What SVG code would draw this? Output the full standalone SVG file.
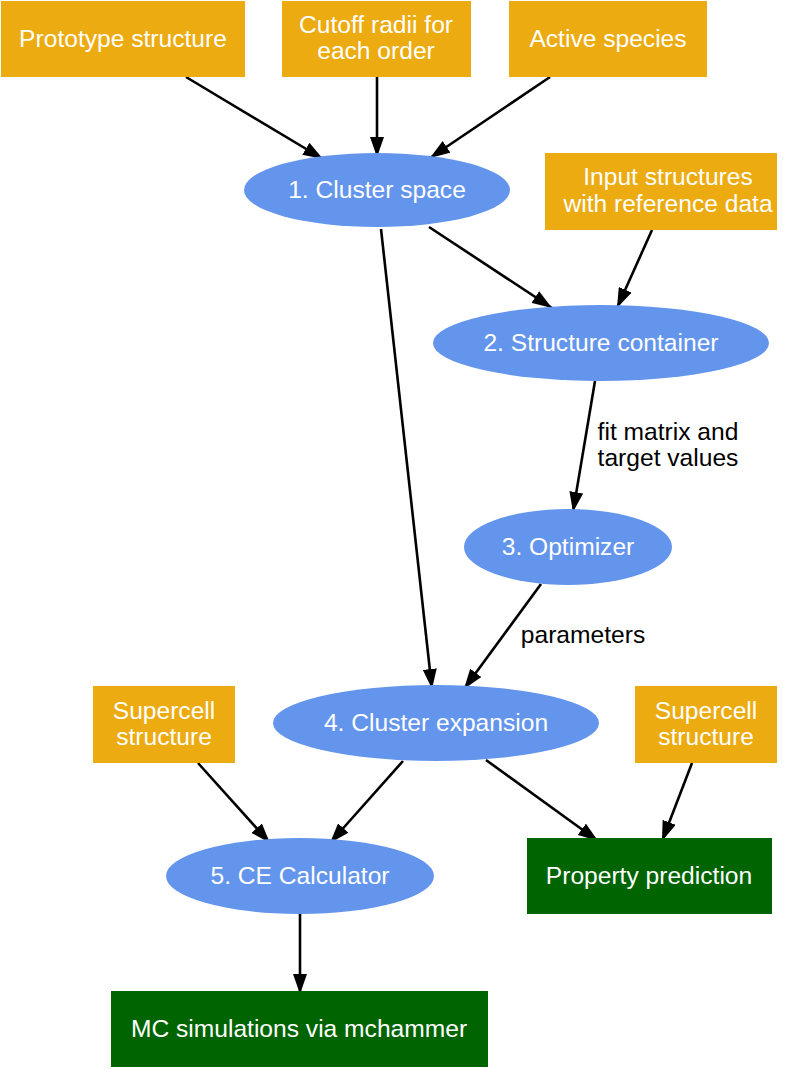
<svg xmlns="http://www.w3.org/2000/svg" width="794" height="1069" viewBox="0 0 794 1069">
<style>
.in{fill:#ecab10}
.op{fill:#6495ed}
.out{fill:#006400}
text{font-family:"Liberation Sans",Arial,Helvetica,sans-serif;font-size:24.6px;text-anchor:middle}
.w{fill:#ffffff}
.k{fill:#000000}
.e{stroke:#000;stroke-width:2.6;fill:none;marker-end:url(#ah)}
</style>
<defs>
<marker id="ah" markerUnits="userSpaceOnUse" markerWidth="20" markerHeight="14" refX="20" refY="7" orient="auto">
<path d="M0,0 L20,7 L0,14 z" fill="#000"/>
</marker>
</defs>
<rect width="794" height="1069" fill="#ffffff"/>
<g id="connectors">
<line class="e" x1="186" y1="77" x2="323" y2="159"/>
<line class="e" x1="377" y1="77" x2="377" y2="157"/>
<line class="e" x1="550" y1="77" x2="430" y2="158"/>
<line class="e" x1="429" y1="227" x2="552" y2="308"/>
<line class="e" x1="652" y1="230" x2="617" y2="308"/>
<line class="e" x1="381" y1="229" x2="432" y2="689"/>
<line class="e" x1="595" y1="381" x2="573" y2="512"/>
<line class="e" x1="541" y1="584" x2="464" y2="689"/>
<line class="e" x1="198" y1="763" x2="270" y2="843"/>
<line class="e" x1="403" y1="761" x2="330" y2="843"/>
<line class="e" x1="486" y1="760" x2="598" y2="841"/>
<line class="e" x1="692" y1="763" x2="662" y2="841"/>
<line class="e" x1="300" y1="914" x2="300" y2="994"/>
<text class="k" x="668" y="440">fit matrix and</text>
<text class="k" x="668" y="466">target values</text>
<text class="k" x="583" y="643">parameters</text>
</g>
<g id="prototype">
<rect class="in" x="1" y="1" width="244" height="76"/>
<text class="w" x="123" y="47">Prototype structure</text>
</g>
<g id="cutoff">
<rect class="in" x="282" y="1" width="189" height="76"/>
<text class="w" x="376" y="33">Cutoff radii for</text>
<text class="w" x="376" y="59">each order</text>
</g>
<g id="species">
<rect class="in" x="509" y="1" width="198" height="76"/>
<text class="w" x="608" y="47">Active species</text>
</g>
<g id="clusterspace">
<ellipse class="op" cx="377" cy="190" rx="133" ry="37"/>
<text class="w" x="377" y="198">1. Cluster space</text>
</g>
<g id="inputstructures">
<rect class="in" x="545" y="153" width="232" height="77"/>
<text class="w" x="668" y="185">Input structures</text>
<text class="w" x="668" y="212">with reference data</text>
</g>
<g id="structurecontainer">
<ellipse class="op" cx="601" cy="343" rx="168" ry="38"/>
<text class="w" x="601" y="351">2. Structure container</text>
</g>
<g id="optimizer">
<ellipse class="op" cx="568" cy="547" rx="104" ry="38"/>
<text class="w" x="568" y="555">3. Optimizer</text>
</g>
<g id="clusterexpansion">
<ellipse class="op" cx="436" cy="723" rx="163" ry="38"/>
<text class="w" x="436" y="731">4. Cluster expansion</text>
</g>
<g id="supercell1">
<rect class="in" x="93" y="686" width="142" height="77"/>
<text class="w" x="164" y="719">Supercell</text>
<text class="w" x="164" y="745">structure</text>
</g>
<g id="supercell2">
<rect class="in" x="635" y="686" width="142" height="77"/>
<text class="w" x="706" y="719">Supercell</text>
<text class="w" x="706" y="745">structure</text>
</g>
<g id="cecalculator">
<ellipse class="op" cx="300" cy="876" rx="134" ry="38"/>
<text class="w" x="300" y="884">5. CE Calculator</text>
</g>
<g id="propertyprediction">
<rect class="out" x="527" y="838" width="245" height="76"/>
<text class="w" x="649" y="884">Property prediction</text>
</g>
<g id="mcsimulations">
<rect class="out" x="111" y="991" width="377" height="76"/>
<text class="w" x="299" y="1037">MC simulations via mchammer</text>
</g>
</svg>
